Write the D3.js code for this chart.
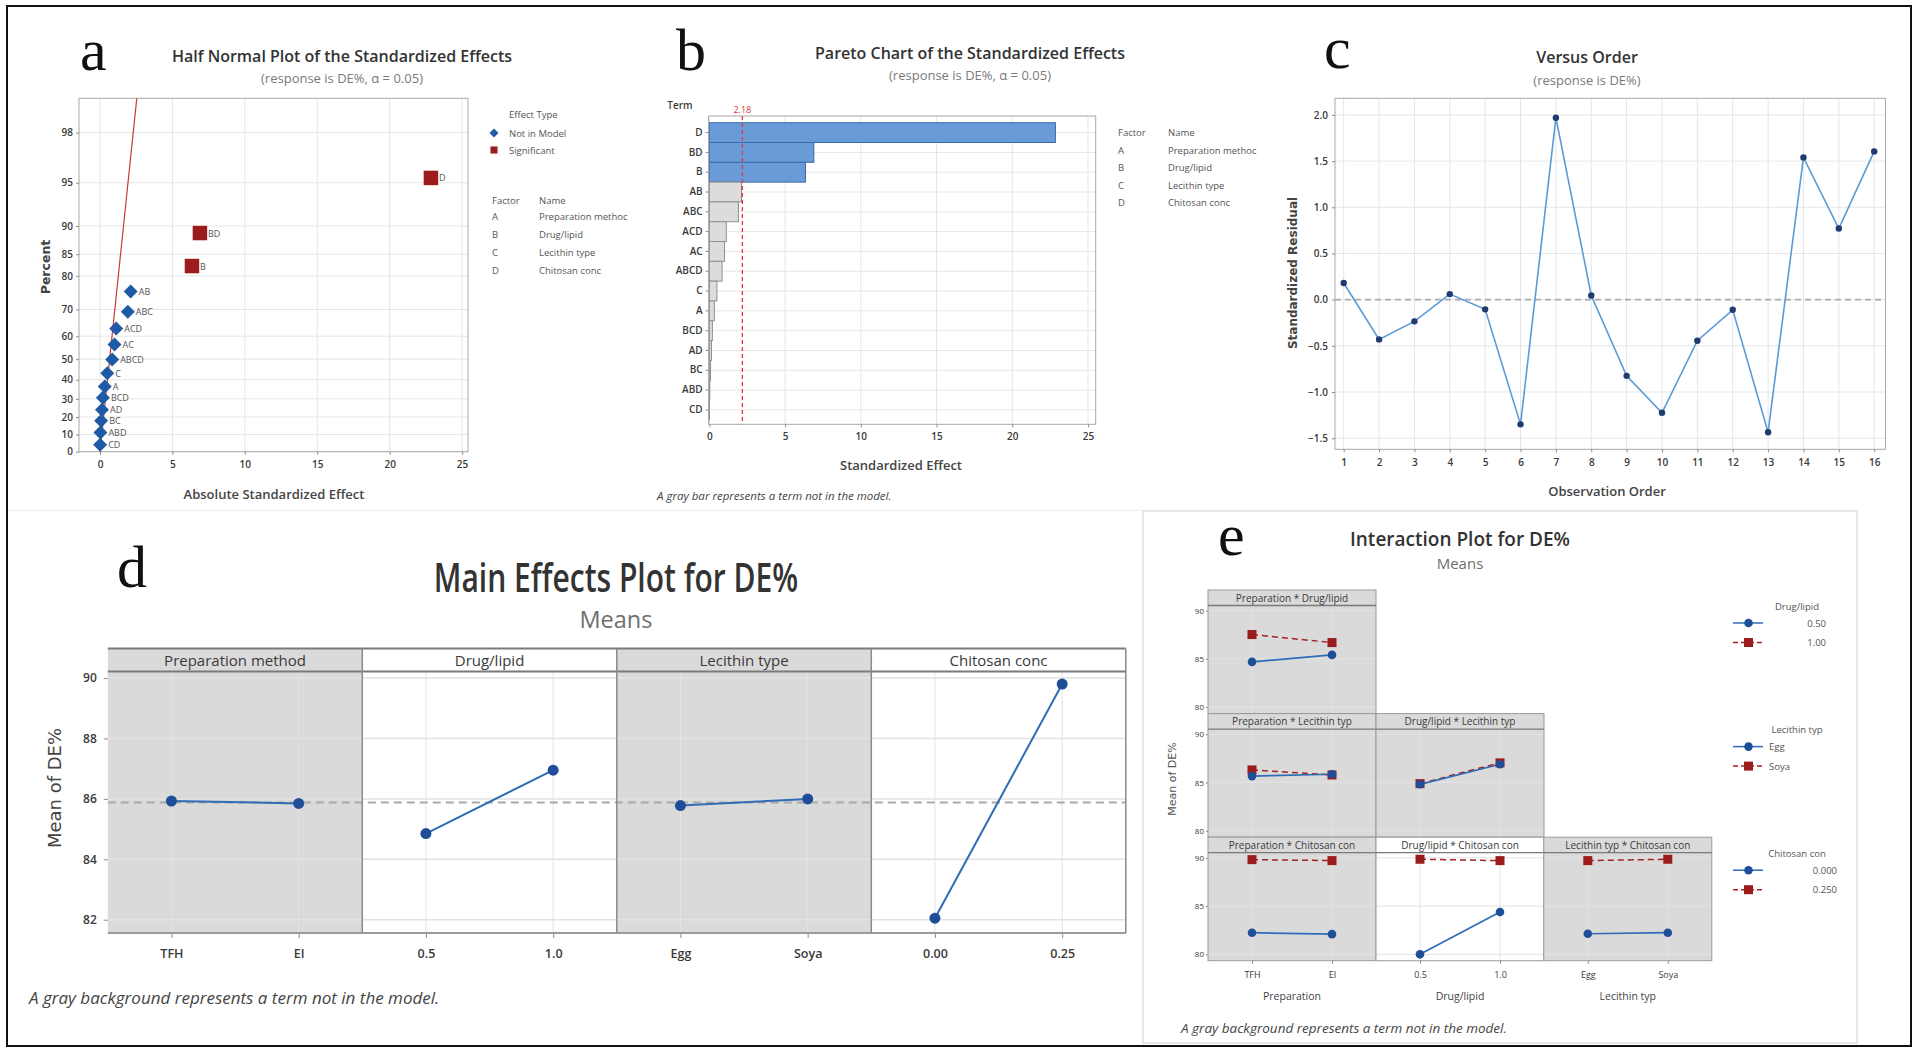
<!DOCTYPE html>
<html>
<head>
<meta charset="utf-8">
<script src="https://cdn.jsdelivr.net/npm/d3@7"></script>
<style>
  body { margin: 0; background: #fff; }
</style>
</head>
<body>
<svg id="fig"></svg>
<script>
// ---- data ----
// a, b : standardized effects
var terms = ['D','BD','B','AB','ABC','ACD','AC','ABCD','C','A','BCD','AD','BC','ABD','CD'];
var effects = [22.85, 6.9, 6.35, 2.12, 1.92, 1.12, 1.0, 0.84, 0.5, 0.33, 0.2, 0.14, 0.08, 0.03, 0.01];
var halfNormalPct = [95.4, 88.9, 82.4, 75.7, 69.2, 63.1, 56.5, 49.8, 43.3, 36.5, 30.6, 24.0, 17.8, 11.1, 4.1];
var significantTerms = ['D','BD','B'];
var fitLineEffect = [0, 2.54];
var fitLinePct = [0, 99];
var paretoCrit = 2.18;
var pctTicks = [0,10,20,30,40,50,60,70,80,85,90,95,98];
var factorCodes = ['A','B','C','D'];
var factorNames = ['Preparation methoc','Drug/lipid','Lecithin type','Chitosan conc'];

// c : residuals versus order
var residuals = [0.18, -0.43, -0.235, 0.06, -0.105, -1.35, 1.97, 0.045, -0.825, -1.225, -0.445, -0.11, -1.435, 1.54, 0.77, 1.605];

// d : main effects
var mainFactors = ['Preparation method','Drug/lipid','Lecithin type','Chitosan conc'];
var mainLevels = [['TFH','EI'],['0.5','1.0'],['Egg','Soya'],['0.00','0.25']];
var mainMeans = [[85.93,85.85],[84.85,86.95],[85.78,86.0],[82.05,89.8]];
var mainInModel = [false, true, false, true];
var grandMean = 85.88;

// e : interactions
var intXNames = ['Preparation','Drug/lipid','Lecithin typ'];
var intXLevels = [['TFH','EI'],['0.5','1.0'],['Egg','Soya']];
var intTraceNames = ['Drug/lipid','Lecithin typ','Chitosan con'];
var intTraceLevels = [['0.50','1.00'],['Egg','Soya'],['0.000','0.250']];
var intStrips = ['Preparation * Drug/lipid','Preparation * Lecithin typ','Drug/lipid * Lecithin typ',
                 'Preparation * Chitosan con','Drug/lipid * Chitosan con','Lecithin typ * Chitosan con'];
var intCellRow = [0,1,1,2,2,2];
var intCellCol = [0,0,1,0,1,2];
var intLow  = [[84.69,85.41],[85.66,85.85],[84.81,86.89],[82.24,82.09],[80.0,84.39],[82.13,82.24]];
var intHigh = [[87.52,86.69],[86.3,85.78],[84.88,87.03],[89.81,89.71],[89.85,89.71],[89.71,89.85]];
var intInModel = [false,false,false,false,true,false];

// ---- setup ----
var W = 1919, H = 1054;
var FONT = "'Open Sans', 'Noto Sans', sans-serif";
var BLUE = '#1f5aa6', RED = '#9b1c1c', GRID = '#e6e6e6', FRAME = '#a8a8a8', TXT = '#3a3a3a', GRAYBG = '#dadada';

var svg = d3.select('#fig').attr('width', W).attr('height', H);
svg.append('rect').attr('width', W).attr('height', H).attr('fill', '#fff');

function addText(g, x, y, s, o) {
  o = o || {};
  return g.append('text').attr('x', x).attr('y', y).text(s)
    .attr('font-size', o.size || 10)
    .attr('font-family', o.family || FONT)
    .attr('font-weight', o.weight || 400)
    .attr('font-style', o.style || 'normal')
    .attr('fill', o.color || TXT)
    .attr('text-anchor', o.anchor || 'start');
}
function styleAxis(g, size, weight) {
  g.select('.domain').remove();
  g.selectAll('.tick line').attr('stroke', '#8c8c8c');
  g.selectAll('.tick text').attr('font-family', FONT).attr('font-size', size)
    .attr('font-weight', weight || 600).attr('fill', TXT);
}
function letter(x, y, s) {
  addText(svg, x, y, s, {size: 60, family: "'Liberation Serif', serif", color: '#111'});
}
// inverse normal cdf (Acklam), used for the half normal probability axis
function probit(p) {
  var a = [-39.69683028665376, 220.9460984245205, -275.9285104469687, 138.3577518672690, -30.66479806614716, 2.506628277459239];
  var b = [-54.47609879822406, 161.5858368580409, -155.6989798598866, 66.80131188771972, -13.28068155288572];
  var c = [-0.007784894002430293, -0.3223964580411365, -2.400758277161838, -2.549732539343734, 4.374664141464968, 2.938163982698783];
  var d = [0.007784695709041462, 0.3224671290700398, 2.445134137142996, 3.754408661907416];
  var q, r;
  if (p < 0.02425) {
    q = Math.sqrt(-2 * Math.log(p));
    return (((((c[0]*q+c[1])*q+c[2])*q+c[3])*q+c[4])*q+c[5]) / ((((d[0]*q+d[1])*q+d[2])*q+d[3])*q+1);
  }
  if (p > 1 - 0.02425) {
    q = Math.sqrt(-2 * Math.log(1 - p));
    return -(((((c[0]*q+c[1])*q+c[2])*q+c[3])*q+c[4])*q+c[5]) / ((((d[0]*q+d[1])*q+d[2])*q+d[3])*q+1);
  }
  q = p - 0.5; r = q * q;
  return (((((a[0]*r+a[1])*r+a[2])*r+a[3])*r+a[4])*r+a[5])*q / (((((b[0]*r+b[1])*r+b[2])*r+b[3])*r+b[4])*r+1);
}
function hz(pct) { return probit(0.5 + pct / 200); }

// figure frame + faint panel boxes
svg.append('rect').attr('x', 7).attr('y', 6).attr('width', 1904).attr('height', 1040)
  .attr('fill', 'none').attr('stroke', '#111').attr('stroke-width', 2);
svg.append('line').attr('x1', 8).attr('x2', 1143).attr('y1', 510.5).attr('y2', 510.5).attr('stroke', '#eeeeee');
svg.append('rect').attr('x', 1143).attr('y', 511).attr('width', 714).attr('height', 532)
  .attr('fill', 'none').attr('stroke', '#e0e0e0').attr('stroke-width', 1.5);

// ================= panel a : half normal plot =================
var ga = svg.append('g');
var aL = 79, aR = 468, aT = 98.3, aB = 451.7;
var ax = d3.scaleLinear().domain([-1.45, 25.41]).range([aL, aR]);
var az = d3.scaleLinear().domain([0, hz(99)]).range([aB, aT]);
function ay(p) { return az(hz(p)); }

ga.selectAll('line.gx').data(ax.ticks(5)).join('line').attr('class', 'gx')
  .attr('x1', ax).attr('x2', ax).attr('y1', aT).attr('y2', aB).attr('stroke', GRID);
ga.selectAll('line.gy').data(pctTicks).join('line').attr('class', 'gy')
  .attr('x1', aL).attr('x2', aR).attr('y1', ay).attr('y2', ay).attr('stroke', GRID);
ga.append('rect').attr('x', aL).attr('y', aT).attr('width', aR - aL).attr('height', aB - aT)
  .attr('fill', 'none').attr('stroke', FRAME);

var aYAxis = ga.append('g').attr('transform', 'translate(' + aL + ',0)')
  .call(d3.axisLeft(az).tickValues(pctTicks.map(hz)).tickFormat(function(d, i) { return pctTicks[i]; }).tickSize(3).tickPadding(3));
styleAxis(aYAxis, 10);
var aXAxis = ga.append('g').attr('transform', 'translate(0,' + aB + ')')
  .call(d3.axisBottom(ax).ticks(5).tickSize(3).tickPadding(6));
styleAxis(aXAxis, 10);

ga.append('line')
  .attr('x1', ax(fitLineEffect[0])).attr('y1', ay(fitLinePct[0]))
  .attr('x2', ax(fitLineEffect[1])).attr('y2', ay(fitLinePct[1]))
  .attr('stroke', '#c83a3a').attr('stroke-width', 1.2);

ga.selectAll('path.pt').data(terms).join('path').attr('class', 'pt')
  .attr('transform', function(t, i) {
    var sig = significantTerms.indexOf(t) >= 0;
    return 'translate(' + ax(effects[i]) + ',' + ay(halfNormalPct[i]) + ')' + (sig ? '' : ' rotate(45)');
  })
  .attr('d', function(t) { return d3.symbol(d3.symbolSquare, significantTerms.indexOf(t) >= 0 ? 210 : 98)(); })
  .attr('fill', function(t) { return significantTerms.indexOf(t) >= 0 ? RED : BLUE; });
ga.selectAll('text.pl').data(terms).join('text').attr('class', 'pl')
  .attr('x', function(t, i) { return ax(effects[i]) + 8; })
  .attr('y', function(t, i) { return ay(halfNormalPct[i]) + 3.5; })
  .attr('font-family', FONT).attr('font-size', 9).attr('fill', '#555').text(function(t) { return t; });

letter(80, 70, 'a');
addText(ga, 342, 62, 'Half Normal Plot of the Standardized Effects', {size: 16, weight: 600, anchor: 'middle', color: '#333'});
addText(ga, 342, 83, '(response is DE%, \u03b1 = 0.05)', {size: 13, anchor: 'middle', color: '#7a7a7a'});
addText(ga, 274, 499, 'Absolute Standardized Effect', {size: 13, weight: 600, anchor: 'middle', color: '#444'});
addText(ga, 0, 0, 'Percent', {size: 12.5, weight: 700, anchor: 'middle', color: '#444', family: "'DejaVu Sans', sans-serif"})
  .attr('transform', 'translate(50,267) rotate(-90)');

// legend a
addText(ga, 509, 118, 'Effect Type', {size: 9.5, color: '#555'});
ga.append('path').attr('d', d3.symbol(d3.symbolSquare, 40)()).attr('transform', 'translate(494,133) rotate(45)').attr('fill', BLUE);
addText(ga, 509, 136.5, 'Not in Model', {size: 9.5, color: '#555'});
ga.append('path').attr('d', d3.symbol(d3.symbolSquare, 50)()).attr('transform', 'translate(494,150)').attr('fill', RED);
addText(ga, 509, 153.5, 'Significant', {size: 9.5, color: '#555'});
addText(ga, 492, 203.5, 'Factor', {size: 9.5, color: '#555'});
addText(ga, 539, 203.5, 'Name', {size: 9.5, color: '#555'});
factorCodes.forEach(function(f, i) {
  addText(ga, 492, 220 + i * 18, f, {size: 9.5, color: '#555'});
  addText(ga, 539, 220 + i * 18, factorNames[i], {size: 9.5, color: '#555'});
});

// ================= panel b : pareto =================
var gb = svg.append('g');
var bL = 708.6, bR = 1095.7, bT = 116, bB = 424.3;
var bx = d3.scaleLinear().domain([-0.05, 25.51]).range([bL, bR]);
var by = d3.scaleBand().domain(terms).range([122.7, 419.8]).padding(0);

gb.selectAll('line.gx').data(bx.ticks(5)).join('line').attr('class', 'gx')
  .attr('x1', bx).attr('x2', bx).attr('y1', bT).attr('y2', bB).attr('stroke', GRID);
gb.selectAll('line.gy').data(terms).join('line').attr('class', 'gy')
  .attr('x1', bL).attr('x2', bR)
  .attr('y1', function(t) { return by(t) + by.bandwidth() / 2; })
  .attr('y2', function(t) { return by(t) + by.bandwidth() / 2; }).attr('stroke', GRID);
gb.selectAll('rect.bar').data(terms).join('rect').attr('class', 'bar')
  .attr('x', bx(0)).attr('y', function(t) { return by(t); })
  .attr('width', function(t, i) { return bx(effects[i]) - bx(0); })
  .attr('height', by.bandwidth())
  .attr('fill', function(t) { return significantTerms.indexOf(t) >= 0 ? '#6a9bd9' : '#dcdcdc'; })
  .attr('stroke', function(t) { return significantTerms.indexOf(t) >= 0 ? '#3d6aa6' : '#8f8f8f'; });
gb.append('rect').attr('x', bL).attr('y', bT).attr('width', bR - bL).attr('height', bB - bT)
  .attr('fill', 'none').attr('stroke', FRAME);
gb.append('line').attr('x1', bx(paretoCrit)).attr('x2', bx(paretoCrit)).attr('y1', bT).attr('y2', bB)
  .attr('stroke', '#e0383a').attr('stroke-width', 1.3).attr('stroke-dasharray', '4,3');
addText(gb, bx(paretoCrit), 113, String(paretoCrit), {size: 9, color: '#d23a3a', anchor: 'middle'});

var bYAxis = gb.append('g').attr('transform', 'translate(' + bL + ',0)')
  .call(d3.axisLeft(by).tickSize(3).tickPadding(3));
styleAxis(bYAxis, 10);
var bXAxis = gb.append('g').attr('transform', 'translate(0,' + bB + ')')
  .call(d3.axisBottom(bx).ticks(5).tickSize(3).tickPadding(6));
styleAxis(bXAxis, 10);

letter(676, 70, 'b');
addText(gb, 970, 59, 'Pareto Chart of the Standardized Effects', {size: 16, weight: 600, anchor: 'middle', color: '#333'});
addText(gb, 970, 80, '(response is DE%, \u03b1 = 0.05)', {size: 13, anchor: 'middle', color: '#7a7a7a'});
addText(gb, 680, 109, 'Term', {size: 10, weight: 600, anchor: 'middle'});
addText(gb, 901, 470, 'Standardized Effect', {size: 13, weight: 600, anchor: 'middle', color: '#444'});
addText(gb, 657, 500, 'A gray bar represents a term not in the model.', {size: 11.5, style: 'italic', color: '#444'});
addText(gb, 1118, 136, 'Factor', {size: 9.5, color: '#555'});
addText(gb, 1168, 136, 'Name', {size: 9.5, color: '#555'});
factorCodes.forEach(function(f, i) {
  addText(gb, 1118, 154 + i * 17.3, f, {size: 9.5, color: '#555'});
  addText(gb, 1168, 154 + i * 17.3, factorNames[i], {size: 9.5, color: '#555'});
});

// ================= panel c : versus order =================
var gc = svg.append('g');
var cL = 1335, cR = 1885.5, cT = 98.3, cB = 449.3;
var order = d3.range(1, residuals.length + 1);
var cx = d3.scaleLinear().domain([0.754, 16.32]).range([cL, cR]);
var cy = d3.scaleLinear().domain([-1.62, 2.18]).range([cB, cT]);
var cYTicks = d3.range(-1.5, 2.01, 0.5);

gc.selectAll('line.gx').data(order).join('line').attr('class', 'gx')
  .attr('x1', cx).attr('x2', cx).attr('y1', cT).attr('y2', cB).attr('stroke', GRID);
gc.selectAll('line.gy').data(cYTicks).join('line').attr('class', 'gy')
  .attr('x1', cL).attr('x2', cR).attr('y1', cy).attr('y2', cy).attr('stroke', GRID);
gc.append('rect').attr('x', cL).attr('y', cT).attr('width', cR - cL).attr('height', cB - cT)
  .attr('fill', 'none').attr('stroke', FRAME);
gc.append('line').attr('x1', cL).attr('x2', cR).attr('y1', cy(0)).attr('y2', cy(0))
  .attr('stroke', '#acacac').attr('stroke-width', 1.6).attr('stroke-dasharray', '6,4');

var cYAxis = gc.append('g').attr('transform', 'translate(' + cL + ',0)')
  .call(d3.axisLeft(cy).tickValues(cYTicks).tickFormat(d3.format('.1f')).tickSize(3).tickPadding(4));
styleAxis(cYAxis, 10);
var cXAxis = gc.append('g').attr('transform', 'translate(0,' + cB + ')')
  .call(d3.axisBottom(cx).tickValues(order).tickFormat(d3.format('d')).tickSize(3).tickPadding(7));
styleAxis(cXAxis, 10);

gc.append('path').datum(residuals)
  .attr('d', d3.line().x(function(d, i) { return cx(order[i]); }).y(function(d) { return cy(d); }))
  .attr('fill', 'none').attr('stroke', '#5b9bd5').attr('stroke-width', 1.6);
gc.selectAll('circle').data(residuals).join('circle')
  .attr('cx', function(d, i) { return cx(order[i]); }).attr('cy', cy).attr('r', 3.2).attr('fill', '#1f3b70');

letter(1324, 68, 'c');
addText(gc, 1587, 63, 'Versus Order', {size: 16, weight: 600, anchor: 'middle', color: '#333'});
addText(gc, 1587, 85, '(response is DE%)', {size: 13, anchor: 'middle', color: '#7a7a7a'});
addText(gc, 1607, 496, 'Observation Order', {size: 13, weight: 600, anchor: 'middle', color: '#444'});
addText(gc, 0, 0, 'Standardized Residual', {size: 12, weight: 700, anchor: 'middle', color: '#444', family: "'DejaVu Sans', sans-serif"})
  .attr('transform', 'translate(1297,273) rotate(-90)');

// ================= panel d : main effects =================
var gd = svg.append('g');
var dLeft = 107.8, dColW = 254.5, dStripTop = 648.4, dTop = 671.4, dBottom = 933;
var dy = d3.scaleLinear().domain([81.56, 90.22]).range([dBottom, dTop]);
var dYTicks = [82, 84, 86, 88, 90];

mainFactors.forEach(function(f, i) {
  var x0 = dLeft + i * dColW;
  var dx = d3.scalePoint().domain(mainLevels[i]).range([x0, x0 + dColW]).padding(0.5);
  gd.append('rect').attr('x', x0).attr('y', dStripTop).attr('width', dColW).attr('height', dBottom - dStripTop)
    .attr('fill', mainInModel[i] ? '#fff' : GRAYBG);
  var gl = mainInModel[i] ? '#e2e2e2' : '#e3e3e3';
  gd.selectAll(null).data(dYTicks).join('line')
    .attr('x1', x0).attr('x2', x0 + dColW).attr('y1', dy).attr('y2', dy).attr('stroke', gl).attr('stroke-width', 1.5);
  gd.selectAll(null).data(mainLevels[i]).join('line')
    .attr('x1', dx).attr('x2', dx).attr('y1', dTop).attr('y2', dBottom).attr('stroke', gl);
  addText(gd, x0 + dColW / 2, 666, f, {size: 15, anchor: 'middle', color: '#3a3a3a'});
  var xa = gd.append('g').attr('transform', 'translate(0,' + dBottom + ')')
    .call(d3.axisBottom(dx).tickSize(5).tickPadding(11));
  styleAxis(xa, 12.5);
});
gd.append('line').attr('x1', dLeft).attr('x2', dLeft + 4 * dColW).attr('y1', dy(grandMean)).attr('y2', dy(grandMean))
  .attr('stroke', '#a9a9a9').attr('stroke-width', 2).attr('stroke-dasharray', '8,5');
mainFactors.forEach(function(f, i) {
  var x0 = dLeft + i * dColW;
  var dx = d3.scalePoint().domain(mainLevels[i]).range([x0, x0 + dColW]).padding(0.5);
  gd.append('path').datum(mainMeans[i])
    .attr('d', d3.line().x(function(d, j) { return dx(mainLevels[i][j]); }).y(function(d) { return dy(d); }))
    .attr('fill', 'none').attr('stroke', '#2f6cb6').attr('stroke-width', 2);
  gd.selectAll(null).data(mainMeans[i]).join('circle')
    .attr('cx', function(d, j) { return dx(mainLevels[i][j]); }).attr('cy', dy).attr('r', 5.5).attr('fill', '#1f4e99');
});
[dStripTop, dTop].forEach(function(y) {
  gd.append('line').attr('x1', dLeft).attr('x2', dLeft + 4 * dColW).attr('y1', y).attr('y2', y)
    .attr('stroke', '#7a7a7a').attr('stroke-width', 2);
});
gd.append('line').attr('x1', dLeft).attr('x2', dLeft + 4 * dColW).attr('y1', dBottom).attr('y2', dBottom)
  .attr('stroke', '#9a9a9a').attr('stroke-width', 2);
d3.range(1, 5).forEach(function(i) {
  gd.append('line').attr('x1', dLeft + i * dColW).attr('x2', dLeft + i * dColW).attr('y1', dStripTop).attr('y2', dBottom)
    .attr('stroke', '#8a8a8a').attr('stroke-width', 1.5);
});
var dYAxis = gd.append('g').attr('transform', 'translate(' + dLeft + ',0)')
  .call(d3.axisLeft(dy).tickValues(dYTicks).tickSize(4).tickPadding(7));
styleAxis(dYAxis, 12);

letter(117, 587, 'd');
addText(gd, 0, 0, 'Main Effects Plot for DE%', {size: 30, weight: 600, anchor: 'middle', color: '#333'})
  .attr('transform', 'translate(616,592) scale(1,1.3)');
addText(gd, 616, 627.5, 'Means', {size: 23.5, anchor: 'middle', color: '#6e6e6e'});
addText(gd, 0, 0, 'Mean of DE%', {size: 18, anchor: 'middle', color: '#444', family: "'DejaVu Sans', sans-serif"})
  .attr('transform', 'translate(61,788) rotate(-90)');
addText(gd, 29, 1004, 'A gray background represents a term not in the model.', {size: 17, style: 'italic', color: '#444'});

// ================= panel e : interaction plot =================
var ge = svg.append('g');
var eCols = [1208, 1376, 1543.8], eColW = 168;
var eRowTop = [590, 713.6, 837.2], eStripH = 15.5, ePlotH = 108;
var eYTicks = [80, 85, 90];
function eScaleY(r) {
  var t = eRowTop[r] + eStripH;
  return d3.scaleLinear().domain([79.34, 90.53]).range([t + ePlotH, t]);
}
function eScaleX(c) {
  return d3.scalePoint().domain(intXLevels[c]).range([eCols[c], eCols[c] + eColW]).padding(0.55);
}

intStrips.forEach(function(s, k) {
  var r = intCellRow[k], c = intCellCol[k];
  var x0 = eCols[c], y0 = eRowTop[r];
  var ey = eScaleY(r), ex = eScaleX(c);
  var bg = intInModel[k] ? '#fff' : GRAYBG;
  var gl = intInModel[k] ? '#e2e2e2' : '#e3e3e3';
  ge.append('rect').attr('x', x0).attr('y', y0).attr('width', eColW).attr('height', eStripH + ePlotH).attr('fill', bg);
  ge.selectAll(null).data(eYTicks).join('line')
    .attr('x1', x0).attr('x2', x0 + eColW).attr('y1', ey).attr('y2', ey).attr('stroke', gl);
  ge.selectAll(null).data(intXLevels[c]).join('line')
    .attr('x1', ex).attr('x2', ex).attr('y1', y0 + eStripH).attr('y2', y0 + eStripH + ePlotH).attr('stroke', gl);
  ge.append('rect').attr('x', x0).attr('y', y0).attr('width', eColW).attr('height', eStripH + ePlotH)
    .attr('fill', 'none').attr('stroke', '#9a9a9a');
  ge.append('line').attr('x1', x0).attr('x2', x0 + eColW).attr('y1', y0 + eStripH).attr('y2', y0 + eStripH)
    .attr('stroke', '#7a7a7a').attr('stroke-width', 1.3);
  addText(ge, x0 + eColW / 2, y0 + 11.5, s, {size: 10, anchor: 'middle', color: '#3a3a3a'});

  var ln = d3.line().x(function(d, j) { return ex(intXLevels[c][j]); }).y(function(d) { return ey(d); });
  ge.append('path').datum(intHigh[k]).attr('d', ln).attr('fill', 'none')
    .attr('stroke', '#a52222').attr('stroke-width', 1.5).attr('stroke-dasharray', '6,4');
  ge.append('path').datum(intLow[k]).attr('d', ln).attr('fill', 'none')
    .attr('stroke', '#2f6cb6').attr('stroke-width', 1.7);
  ge.selectAll(null).data(intHigh[k]).join('rect')
    .attr('x', function(d, j) { return ex(intXLevels[c][j]) - 4.5; }).attr('y', function(d) { return ey(d) - 4.5; })
    .attr('width', 9).attr('height', 9).attr('fill', RED);
  ge.selectAll(null).data(intLow[k]).join('circle')
    .attr('cx', function(d, j) { return ex(intXLevels[c][j]); }).attr('cy', ey).attr('r', 4.3).attr('fill', '#1f4e99');
});
eRowTop.forEach(function(t, r) {
  var ya = ge.append('g').attr('transform', 'translate(' + eCols[0] + ',0)')
    .call(d3.axisLeft(eScaleY(r)).tickValues(eYTicks).tickSize(2).tickPadding(2));
  styleAxis(ya, 8, 400);
});
intXNames.forEach(function(n, c) {
  var xa = ge.append('g').attr('transform', 'translate(0,' + (eRowTop[2] + eStripH + ePlotH) + ')')
    .call(d3.axisBottom(eScaleX(c)).tickSize(3).tickPadding(8));
  styleAxis(xa, 9, 400);
  addText(ge, eCols[c] + eColW / 2, 1000, n, {size: 10.5, anchor: 'middle', color: '#444'});
});

// legends e
intTraceNames.forEach(function(n, r) {
  var t = eRowTop[r];
  var numeric = !isNaN(+intTraceLevels[r][0]);
  addText(ge, 1797, t + 19.5, n, {size: 9.5, anchor: 'middle', color: '#555'});
  intTraceLevels[r].forEach(function(lv, j) {
    var y = t + 33 + j * 19.5;
    ge.append('line').attr('x1', 1733).attr('x2', 1763).attr('y1', y).attr('y2', y)
      .attr('stroke', j ? '#a52222' : '#2f6cb6').attr('stroke-width', 1.5).attr('stroke-dasharray', j ? '5,3' : null);
    if (j) ge.append('rect').attr('x', 1744).attr('y', y - 4.5).attr('width', 9).attr('height', 9).attr('fill', RED);
    else ge.append('circle').attr('cx', 1748.5).attr('cy', y).attr('r', 4.3).attr('fill', '#1f4e99');
    addText(ge, numeric ? 1826 + (lv.length > 4 ? 11 : 0) : 1769, y + 3.5, lv, {size: 9.5, anchor: numeric ? 'end' : 'start', color: '#555'});
  });
});

letter(1218, 555, 'e');
addText(ge, 1460, 546, 'Interaction Plot for DE%', {size: 19, weight: 600, anchor: 'middle', color: '#333'});
addText(ge, 1460, 569, 'Means', {size: 15, anchor: 'middle', color: '#6e6e6e'});
addText(ge, 0, 0, 'Mean of DE%', {size: 11, anchor: 'middle', color: '#555', family: "'DejaVu Sans', sans-serif"})
  .attr('transform', 'translate(1176,779) rotate(-90)');
addText(ge, 1181, 1033, 'A gray background represents a term not in the model.', {size: 13.5, style: 'italic', color: '#444'});
</script>
</body>
</html>
